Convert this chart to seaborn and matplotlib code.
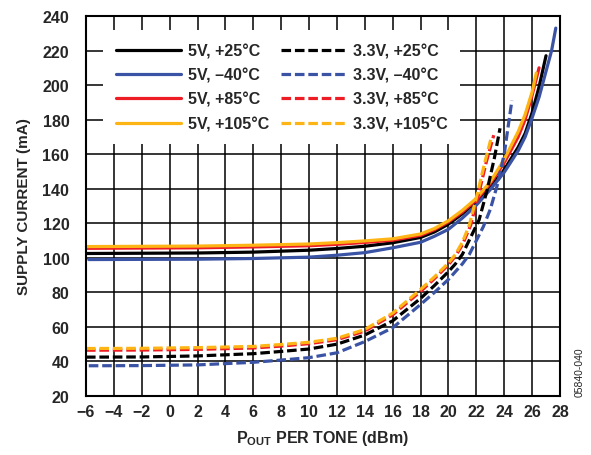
import numpy as np
import pandas as pd
import seaborn as sns
import matplotlib.pyplot as plt

# 5 V supply, solid lines
x_5v_25 = [-6, 2, 6, 10, 12, 14, 16, 18, 19, 20, 21, 22, 23, 24, 25, 25.5, 26, 26.5, 27]
y_5v_25 = [102.5, 102.8, 103.3, 104.4, 105.4, 106.7, 108.7, 111.8, 115, 119.5, 125.5, 132.5, 141, 151, 164, 172, 184, 199, 217]

x_5v_m40 = [-5.8, 2, 6, 10, 12, 14, 16, 18, 19, 20, 21, 22, 23, 24, 25, 25.5, 26, 26.5, 27, 27.4, 27.7]
y_5v_m40 = [99, 99.2, 99.6, 100.4, 101.5, 103, 105.8, 109, 112.5, 116.5, 123, 130.5, 139.5, 149.5, 162, 170, 181, 193, 208, 220, 233]

x_5v_85 = [-6, 2, 6, 10, 12, 14, 16, 18, 19, 20, 21, 22, 23, 24, 25, 25.5, 26, 26.5]
y_5v_85 = [105.5, 105.8, 106.3, 107, 107.8, 108.9, 110.2, 113, 116.3, 120.8, 126.5, 133.5, 143, 155, 170, 180, 194, 210]

x_5v_105 = [-6, 2, 6, 10, 12, 14, 16, 18, 19, 20, 21, 22, 23, 24, 25, 25.5, 26, 26.3]
y_5v_105 = [106.5, 106.8, 107.3, 108, 108.8, 109.8, 111, 113.8, 117, 121.5, 127.5, 134.5, 144, 157, 173, 183, 196, 207]

# 3.3 V supply, dashed lines
x_33v_25 = [-6, -2, 2, 6, 8, 10, 12, 14, 16, 18, 19, 20, 20.5, 21, 21.6, 22.2, 22.8, 23.3, 23.7]
y_33v_25 = [42.5, 42.6, 43.2, 44.5, 45.8, 47.2, 50, 55.3, 63.5, 76.5, 84, 92, 96.5, 102, 112, 122, 140, 158, 175]

x_33v_m40 = [-5.8, -2, 2, 6, 8, 10, 12, 14, 16, 18, 19, 20, 21, 21.5, 22, 22.5, 23, 23.5, 24, 24.3, 24.55]
y_33v_m40 = [37.5, 37.6, 38, 39.5, 40.8, 42.2, 45, 51.5, 59.5, 73, 80, 87.5, 96.5, 102, 110, 118, 128, 142, 160, 177, 191]

x_33v_85 = [-6, -2, 2, 6, 8, 10, 12, 14, 16, 18, 19, 20, 20.5, 21, 21.6, 22.2, 22.7, 23.25]
y_33v_85 = [46.5, 46.6, 47, 47.8, 48.9, 50.3, 52.6, 57.6, 67, 80.5, 88, 96, 101, 107.5, 119, 138, 155, 171]

x_33v_105 = [-6, -2, 2, 6, 8, 10, 12, 14, 16, 18, 19, 20, 20.5, 21, 21.5, 22.1, 22.6, 23.1]
y_33v_105 = [47.5, 47.6, 48, 48.7, 49.8, 51.1, 53.4, 58.5, 68, 81.7, 89, 97, 102, 109, 119, 138, 155, 170.5]

series = [
    ("5V, +25°C", x_5v_25, y_5v_25, "black", "-"),
    ("5V, –40°C", x_5v_m40, y_5v_m40, "#3A53A4", "-"),
    ("5V, +85°C", x_5v_85, y_5v_85, "#EE1C25", "-"),
    ("5V, +105°C", x_5v_105, y_5v_105, "#FDB515", "-"),
    ("3.3V, +25°C", x_33v_25, y_33v_25, "black", (0, (3, 1.2))),
    ("3.3V, –40°C", x_33v_m40, y_33v_m40, "#3A53A4", (0, (3, 1.2))),
    ("3.3V, +85°C", x_33v_85, y_33v_85, "#EE1C25", (0, (3, 1.2))),
    ("3.3V, +105°C", x_33v_105, y_33v_105, "#FDB515", (0, (3, 1.2))),
]

sns.set_style("white")
plt.rcParams['font.family'] = ['Liberation Sans', 'DejaVu Sans']
plt.rcParams['font.weight'] = 'bold'
plt.rcParams['mathtext.fontset'] = 'custom'
plt.rcParams['mathtext.rm'] = 'Liberation Sans:bold'
plt.rcParams['mathtext.bf'] = 'Liberation Sans:bold'

fig = plt.figure(figsize=(5.91, 4.56), dpi=100)
ax = fig.add_axes([0.1455, 0.1294, 0.802, 0.8333])

for label, xs, ys, color, ls in series:
    df = pd.DataFrame({'x': xs, 'y': ys})
    sns.lineplot(data=df, x='x', y='y', ax=ax, color=color, linestyle=ls,
                 linewidth=2.3, label=label)

ax.set_xlim(-6, 28)
ax.set_ylim(20, 240)
ax.set_xticks(np.arange(-6, 29, 2))
ax.set_yticks(np.arange(20, 241, 20))
ax.grid(True, color='black', linewidth=1.1)
ax.set_axisbelow(True)
for sp in ax.spines.values():
    sp.set_color('black')
    sp.set_linewidth(1.5)
ax.tick_params(axis='both', length=0, labelsize=11.5)
ax.tick_params(axis='y', pad=12)
ax.tick_params(axis='x', pad=6)

ax.set_xlabel(r'$\mathbf{P_{OUT}}$ PER TONE (dBm)', fontsize=11.5, fontweight='bold')
ax.set_ylabel('SUPPLY CURRENT (mA)', fontsize=11, fontweight='bold')
ax.xaxis.set_label_coords(0.5, -0.085)
ax.yaxis.set_label_coords(-0.115, 0.5)

leg = ax.legend(loc='upper left', bbox_to_anchor=(0.036, 0.962), borderaxespad=0,
                ncol=2, fontsize=11.5, handlelength=4.1, handletextpad=0.4,
                columnspacing=0.75, labelspacing=0.58, borderpad=0.8,
                frameon=True, fancybox=False, framealpha=1)
leg.get_frame().set_facecolor('white')
leg.get_frame().set_edgecolor('none')

fig.text(0.98, 0.184, '05840-040', rotation=90, fontsize=7.5, fontweight='normal',
         ha='center', va='center')

fig.savefig('out.png', dpi=100)
